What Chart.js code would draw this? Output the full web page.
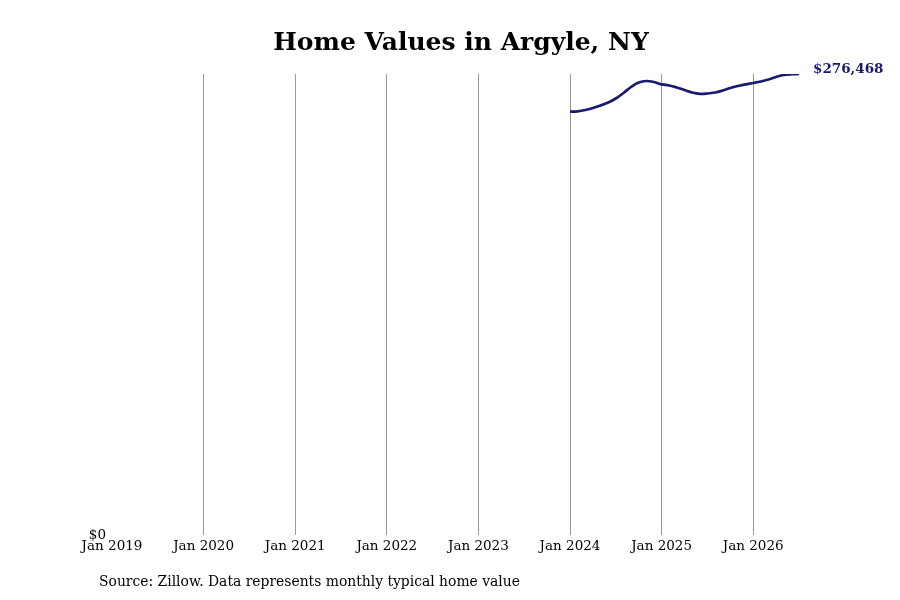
<!DOCTYPE html>
<html>
<head>
<meta charset="utf-8">
<script src="https://cdn.jsdelivr.net/npm/chart.js@4.4.1/dist/chart.umd.min.js"></script>
<style>
  body { margin: 0; background: #fff; }
  #wrap { position: relative; width: 900px; height: 600px; }
  #title { position: absolute; left: 0; width: 922px; top: 27px; text-align: center;
    font: bold 25px "DejaVu Serif", serif; color: #000; }
  #source { position: absolute; left: 99px; top: 573px;
    font: 13.9px "DejaVu Serif", serif; color: #000; }
</style>
</head>
<body>
<div id="wrap">
  <canvas id="myChart" width="900" height="600"></canvas>
  <div id="title">Home Values in Argyle, NY</div>
  <div id="source">Source: Zillow. Data represents monthly typical home value</div>
</div>
<script>
// months counted from Jan 2019
var tickMonths = [0, 12, 24, 36, 48, 60, 72, 84];
var tickLabels = ["Jan 2019", "Jan 2020", "Jan 2021", "Jan 2022", "Jan 2023", "Jan 2024", "Jan 2025", "Jan 2026"];

// Jan 2024 .. Jul 2026
var months = [60, 61, 62, 63, 64, 65, 66, 67, 68, 69, 70, 71, 72, 73, 74, 75, 76, 77, 78, 79, 80, 81, 82, 83, 84, 85, 86, 87, 88, 89, 90];
var homeValues = [253850, 254090, 254870, 256070, 257570, 259370, 261770, 265070, 268670, 271370,
  272270, 271660, 270280, 269570, 268370, 266870, 265370, 264590, 264770, 265370,
  266570, 268070, 269270, 270280, 271070, 271970, 273170, 274670, 275860, 276340, 276468];

var navy = '#191970';

var points = months.map(function(m, i){ return {x: m, y: homeValues[i]}; });

var endLabel = {
  id: 'endLabel',
  afterDatasetsDraw: function(chart){
    var meta = chart.getDatasetMeta(0);
    var last = meta.data[meta.data.length - 1];
    var ctx = chart.ctx;
    ctx.save();
    ctx.font = 'bold 13.5px "DejaVu Serif", serif';
    ctx.fillStyle = navy;
    ctx.textBaseline = 'middle';
    ctx.fillText('$' + homeValues[homeValues.length - 1].toLocaleString('en-US'), last.x + 14, last.y - 5);
    ctx.restore();
  }
};

var ctx = document.getElementById("myChart").getContext('2d');
var myChart = new Chart(ctx, {
  type: 'line',
  data: {
    datasets: [{
      data: points,
      borderColor: navy,
      borderWidth: 2.7,
      pointRadius: 0,
      tension: 0.4,
      fill: false
    }]
  },
  options: {
    responsive: false,
    animation: false,
    layout: { padding: { top: 74, right: 101, bottom: 35, left: 0 } },
    plugins: { legend: { display: false }, tooltip: { enabled: false }, title: { display: false } },
    scales: {
      x: {
        type: 'linear',
        min: 0,
        max: 90,
        afterBuildTicks: function(scale){
          scale.ticks = tickMonths.map(function(v){ return {value: v}; });
        },
        afterFit: function(scale){ scale.height = 30; },
        border: { display: false },
        grid: {
          drawTicks: false,
          color: function(c){ return c.tick && c.tick.value === 0 ? 'rgba(0,0,0,0)' : '#999999'; },
          lineWidth: 1
        },
        ticks: {
          padding: 3,
          maxRotation: 0,
          autoSkip: false,
          color: '#000',
          font: { family: 'DejaVu Serif', size: 13.5 },
          callback: function(v){ return tickLabels[tickMonths.indexOf(v)]; }
        }
      },
      y: {
        min: 0,
        max: 276468,
        afterBuildTicks: function(scale){ scale.ticks = [{value: 0}]; },
        afterFit: function(scale){ scale.width = 112; },
        border: { display: false },
        grid: { display: false, drawTicks: false },
        ticks: {
          padding: 6,
          color: '#000',
          font: { family: 'DejaVu Serif', size: 13.5 },
          callback: function(v){ return '$' + v; }
        }
      }
    }
  },
  plugins: [endLabel]
});
</script>
</body>
</html>
